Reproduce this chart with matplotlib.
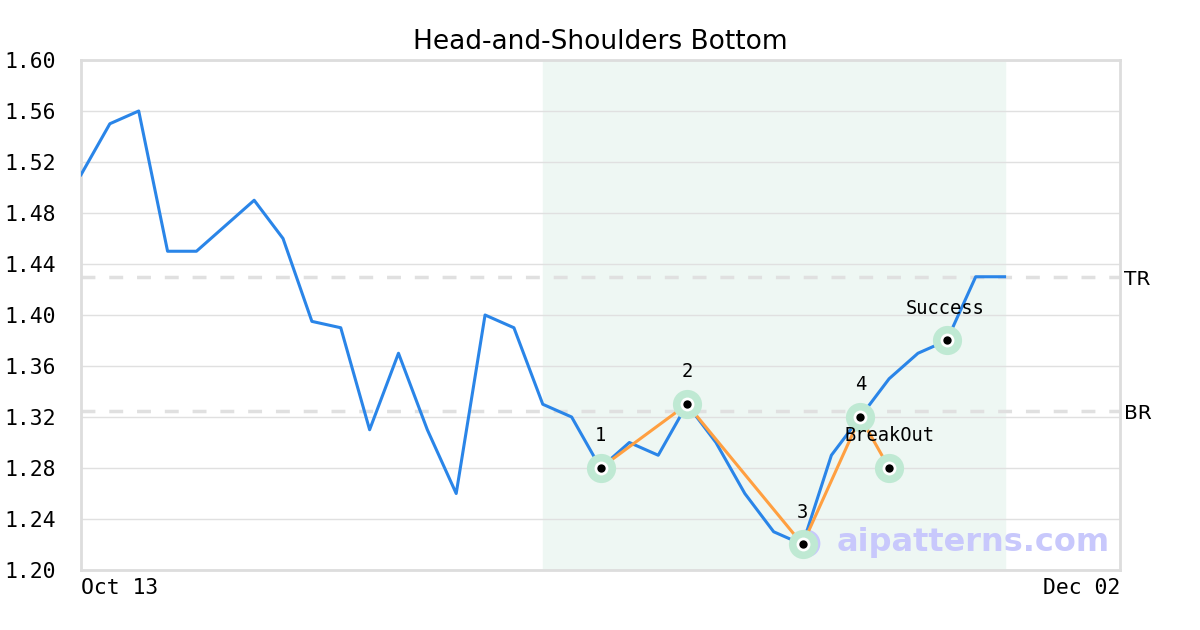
import numpy as np
import matplotlib.pyplot as plt

# price series (trading-day index from Oct 13)
prices = [1.51, 1.55, 1.56, 1.45, 1.45, 1.47, 1.49, 1.46, 1.395, 1.39,
          1.31, 1.37, 1.31, 1.26, 1.40, 1.39, 1.33, 1.32, 1.28, 1.30,
          1.29, 1.33, 1.30, 1.26, 1.23, 1.22, 1.29, 1.32, 1.35, 1.37,
          1.38, 1.43, 1.43]
n_days = 36
x_labels = ["Oct 13", "Dec 02"]

# pattern points
pat_idx = [18, 21, 25, 27, 28]
pat_val = [1.28, 1.33, 1.22, 1.32, 1.28]
pat_txt = ["1", "2", "3", "4", "BreakOut"]
succ_idx = 30
succ_val = 1.38

zone = (16, 32)
tr_level = 1.43
br_level = 1.325

fig = plt.figure(figsize=(12, 6.3), dpi=100)
ax = fig.add_axes([81/1200, 60/630, 1039/1200, 510/630])

ax.axvspan(zone[0], zone[1], color="#eef7f3", zorder=0)
yticks = np.round(np.arange(1.20, 1.601, 0.04), 2)
ax.set_yticks(yticks)
ax.set_yticklabels(["%.2f" % v for v in yticks], family="DejaVu Sans Mono", fontsize=15.4)
ax.yaxis.grid(True, color="#e0e0e0", lw=1, zorder=1)
ax.set_axisbelow(True)

ax.axhline(tr_level, color="#e0e0e0", lw=2.5, ls=(0, (4, 4)), zorder=1)
ax.axhline(br_level, color="#e0e0e0", lw=2.5, ls=(0, (4, 4)), zorder=1)
ax.text(1.004, tr_level - 0.002, "TR", transform=ax.get_yaxis_transform(), fontsize=14.5, va="center")
ax.text(1.004, br_level - 0.002, "BR", transform=ax.get_yaxis_transform(), fontsize=14.5, va="center")

x = np.arange(len(prices))
ax.plot(x, prices, color="#2a85e8", lw=2.2, zorder=3)
ax.plot(pat_idx, pat_val, color="#ff9f40", lw=2.2, zorder=3)

all_x = pat_idx + [succ_idx]
all_y = pat_val + [succ_val]
ax.plot(all_x, all_y, "o", ms=21, color="#bfe9d3", mec="none", zorder=4)
ax.plot(all_x, all_y, "o", ms=10, color="white", mec="none", zorder=5)
ax.plot(all_x, all_y, "o", ms=6, color="black", mec="none", zorder=6)

for xi, yi, t in zip(pat_idx, pat_val, pat_txt):
    ax.text(xi, yi + 0.018, t, ha="center", va="bottom",
            family="DejaVu Sans Mono", fontsize=13.5, zorder=7)
ax.text(succ_idx - 0.05, succ_val + 0.018, "Success", ha="center", va="bottom",
        family="DejaVu Sans Mono", fontsize=13.5, zorder=7)

# watermark
ax.text(0.727, 0.053, "aipatterns.com", transform=ax.transAxes, fontsize=23,
        fontweight="bold", color="#c8c8fc", va="center", ha="left", zorder=2)
ax.plot([0.698], [0.053], "o", transform=ax.transAxes, ms=17, mfc="none",
        mec="#c8c8fc", mew=3, zorder=2)
ax.plot([0.698], [0.053], "o", transform=ax.transAxes, ms=6,
        color="#c8c8fc", mec="none", zorder=2)

ax.set_xlim(0, n_days)
ax.set_ylim(1.20, 1.60)
ax.set_xticks([0, n_days])
ax.set_xticklabels(x_labels, family="DejaVu Sans Mono", fontsize=15.4)
xl = ax.get_xticklabels()
xl[0].set_ha("left")
xl[1].set_ha("right")
ax.tick_params(axis="x", length=0, pad=6)
ax.tick_params(axis="y", length=0, pad=18)
for s in ax.spines.values():
    s.set_color("#dddddd")
    s.set_linewidth(2)

ax.set_title("Head-and-Shoulders Bottom", fontsize=19, pad=8)

fig.savefig("out.png", dpi=100)
